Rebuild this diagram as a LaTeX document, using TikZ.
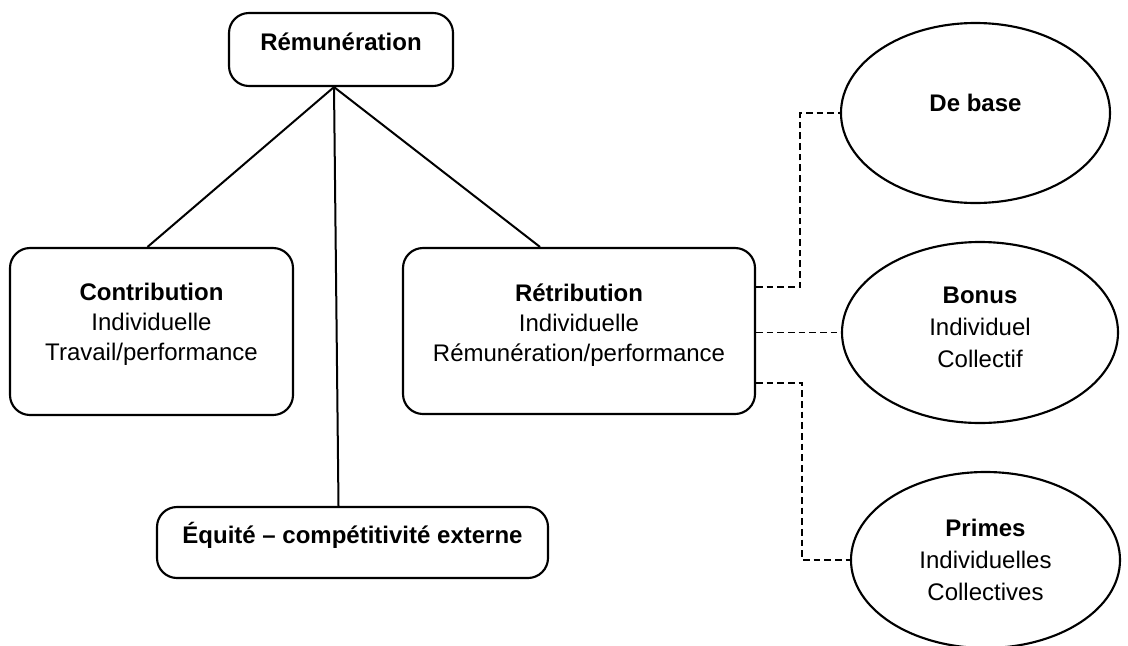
\documentclass[tikz,border=0pt]{standalone}
\usepackage{fontspec}
\setmainfont{Liberation Sans}
\usepackage{tikz}
\usetikzlibrary{shapes.geometric, calc}

% texte centré sur plusieurs lignes, remonté de #1
\newcommand{\lignes}[2][4pt]{\raisebox{#1}[\height][\depth]{\begin{tabular}{@{}c@{}}#2\end{tabular}}}

\begin{document}
\begin{tikzpicture}[x=0.75pt, y=-0.75pt,
    cadre/.style={draw, line width=1.6pt, rounded corners=15pt, inner sep=0pt, font=\fontsize{18}{22.5}\selectfont},
    bulle/.style={draw, ellipse, line width=1.6pt, inner sep=0pt, font=\fontsize{18}{24}\selectfont},
    lien/.style={line width=1.5pt},
    tiret/.style={line width=1.4pt, dash pattern=on 5pt off 3pt}]
        % Cadre de la page
        \useasboundingbox (0,0) rectangle (1128,646);
        
        % Cadres arrondis
        \node[cadre, minimum width=168pt, minimum height=54.75pt] (rem) at (341,49.5)
            {\lignes{\textbf{Rémunération}}};
        \node[cadre, minimum width=212.25pt, minimum height=125.25pt] (contrib) at (151.5,331.5)
            {\lignes[5pt]{\textbf{Contribution}\\Individuelle\\Travail/performance}};
        \node[cadre, minimum width=264pt, minimum height=124.5pt] (retrib) at (579,331)
            {\lignes{\textbf{Rétribution}\\Individuelle\\Rémunération/performance}};
        \node[cadre, minimum width=293.25pt, minimum height=53.25pt] (equite) at (352.5,542.5)
            {\lignes{\textbf{Équité -- compétitivité externe}}};
        
        % Ellipses à droite
        \node[bulle, minimum width=201.75pt, minimum height=135pt] (base) at (975.5,113)
            {\lignes[5.7pt]{\textbf{De base}}};
        \node[bulle, minimum width=207pt, minimum height=135.75pt] (bonus) at (980,332.5)
            {\lignes[2.7pt]{\textbf{Bonus}\\Individuel\\Collectif}};
        \node[bulle, minimum width=201.75pt, minimum height=132pt] (primes) at (985.5,560)
            {\lignes[-1.4pt]{\textbf{Primes}\\Individuelles\\Collectives}};
        
        % Traits pleins depuis Rémunération
        \coordinate (sommet) at ($(rem.south)+(-7,0)$);
        \draw[lien] (sommet) -- ($(contrib.north)+(-4,0)$);
        \draw[lien] (sommet) -- ($(retrib.north)+(-39,0)$);
        \draw[lien] (sommet) -- ($(equite.north)+(-14,0)$);
        
        % Traits pointillés vers les ellipses
        \draw[tiret] ($(retrib.east)+(0,-44)$) -- ++(44,0) |- (base.west);
        \draw[tiret] (retrib.east |- bonus.west) -- (bonus.west);
        \draw[tiret] ($(retrib.east)+(0,52)$) -- ++(46,0) |- (primes.west);
        
    \end{tikzpicture}
\end{document}
